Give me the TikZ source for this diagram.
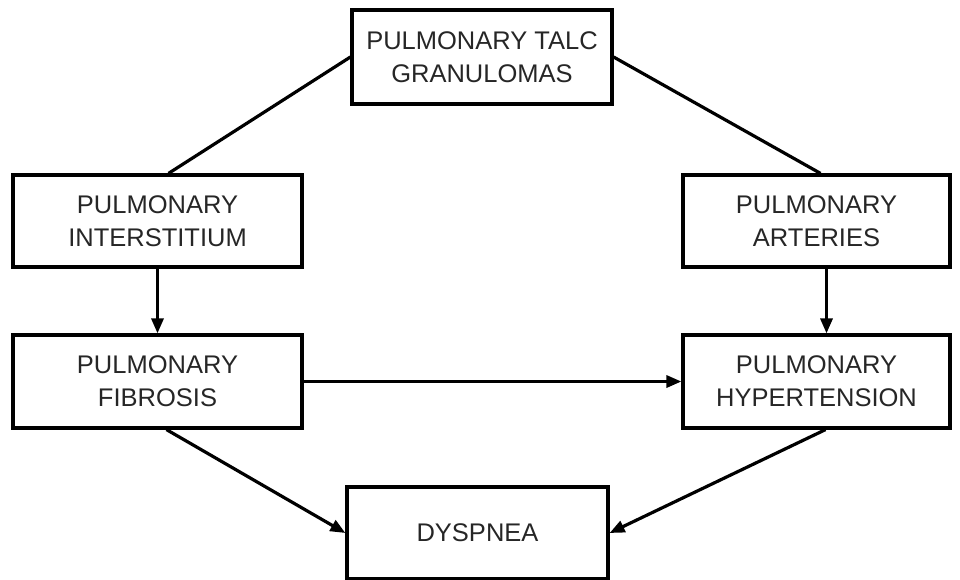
\documentclass[tikz,border=0pt]{standalone}
\usepackage{fontspec}
\setmainfont{Liberation Sans}
\usetikzlibrary{arrows.meta}
\tikzset{%
	box/.style = {draw,line width=3.2pt,align=center,inner sep=0pt,
		font=\fontsize{25.5}{33}\selectfont,text=black!85},
	link/.style = {line width=3.2pt},
	flow/.style = {line width=3.2pt,-{Triangle[length=15pt,width=12pt]}}%
}

\begin{document}
\begin{tikzpicture}[x=1pt,y=-1pt]
			\useasboundingbox(0,0)rectangle(960,579);
			
			\node(talc)[box,minimum width=260,minimum height=94]at(482,57){PULMONARY TALC\\GRANULOMAS};
			\node(inter)[box,minimum width=289,minimum height=92]at(157.5,221){PULMONARY\\INTERSTITIUM};
			\node(arter)[box,minimum width=267,minimum height=92]at(816.5,221){PULMONARY\\ARTERIES};
			\node(fibro)[box,minimum width=289,minimum height=93]at(157.5,381.5){PULMONARY\\FIBROSIS};
			\node(hyper)[box,minimum width=267,minimum height=93]at(816.5,381.5){PULMONARY\\HYPERTENSION};
			\node(dysp)[box,minimum width=261,minimum height=92]at(477.5,533){DYSPNEA};
			
			\draw[link](talc.west)--([xshift=11]inter.north);
			\draw[link](talc.east)--([xshift=4]arter.north);
			\draw[flow](inter.south)--(fibro.north);
			\draw[flow]([xshift=10]arter.south)--([xshift=10]hyper.north);
			\draw[flow](fibro.east)--(hyper.west);
			\draw[flow]([xshift=9]fibro.south)--(dysp.west);
			\draw[flow]([xshift=9]hyper.south)--(dysp.east);
			\end{tikzpicture}
\end{document}
